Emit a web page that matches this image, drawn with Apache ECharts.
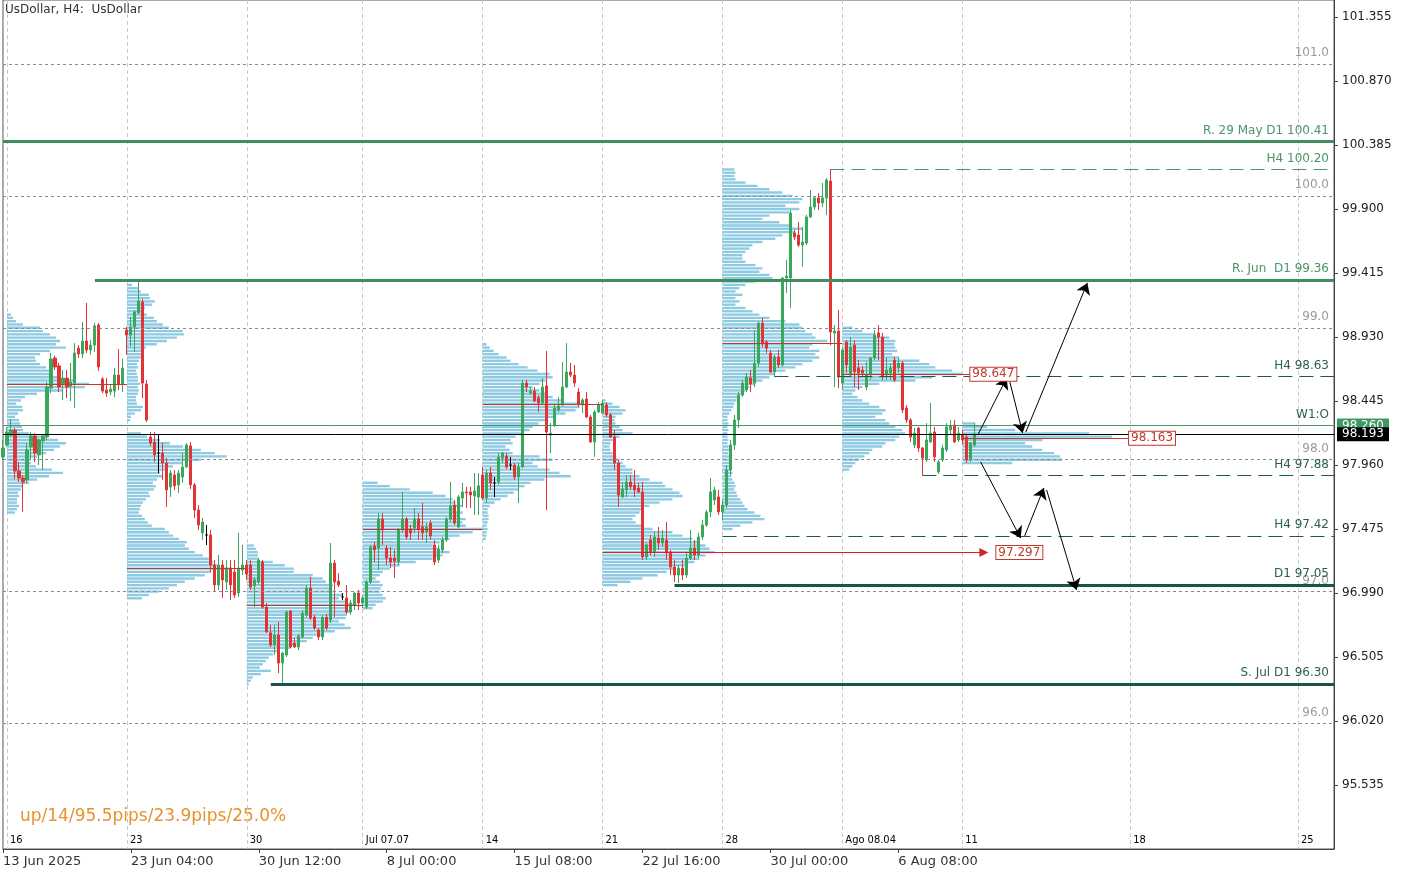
<!DOCTYPE html>
<html><head><meta charset="utf-8">
<script src="https://cdn.jsdelivr.net/npm/echarts@6/dist/echarts.min.js"></script>
<style>html,body{margin:0;padding:0;background:#fff}#c{width:1405px;height:874px}</style>
</head><body><div id="c"></div>
<script>
// ---------- DATA ----------
// H4 candles [open, close, low, high], slot 0 = 13 Jun 20:00
const candles = [
[98.021,98.089,97.998,98.150],[98.112,98.210,98.097,98.248],[98.187,98.225,98.172,98.309],[98.225,97.914,97.854,98.240],
[97.914,97.861,97.832,97.983],[97.861,97.832,97.604,97.884],[97.847,98.074,97.824,98.127],[98.097,98.180,97.998,98.210],
[98.180,98.051,97.983,98.202],[98.036,98.150,97.960,98.164],[98.142,98.180,97.922,98.195],[98.172,98.551,98.150,98.589],
[98.543,98.764,98.505,98.809],[98.771,98.703,98.680,98.787],[98.711,98.551,98.513,98.733],[98.574,98.619,98.453,98.680],
[98.619,98.551,98.467,98.680],[98.559,98.589,98.445,98.733],[98.581,98.809,98.392,98.884],[98.846,98.802,98.771,98.869],
[98.802,98.899,98.771,99.044],[98.899,98.832,98.809,99.188],[98.832,98.869,98.794,98.907],[98.869,99.014,98.817,99.036],
[99.021,98.703,98.672,99.036],[98.612,98.520,98.505,98.627],[98.528,98.505,98.475,98.619],[98.513,98.536,98.490,98.566],
[98.520,98.642,98.475,98.695],[98.642,98.574,98.528,98.839],[98.574,98.695,98.513,98.764],
[98.983,98.945,98.794,99.006],[98.945,99.006,98.854,99.082],[99.006,99.120,98.817,99.135],[99.112,99.203,99.105,99.362],
[99.196,98.581,98.467,99.219],[98.574,98.301,98.286,98.604],[98.172,98.127,98.105,98.210],[98.135,98.036,97.983,98.210],
[98.051,98.051,97.899,98.187],[98.051,97.975,97.847,98.127],[97.975,97.771,97.642,98.013],[97.794,97.899,97.718,97.922],
[97.884,97.802,97.771,97.922],[97.809,97.899,97.748,97.922],[97.869,97.945,97.824,98.051],[97.945,98.112,97.937,98.127],
[98.105,97.809,97.779,98.135],[97.809,97.619,97.558,97.824],[97.619,97.505,97.468,97.657],[97.445,97.528,97.392,97.558],
[97.430,97.430,97.354,97.505],[97.430,97.202,97.149,97.468],[97.202,97.051,96.998,97.240],[97.051,97.202,97.013,97.278],
[97.202,97.089,96.952,97.240],[97.074,97.179,97.013,97.240],[97.179,97.051,96.937,97.240],[97.149,96.975,96.952,97.240],
[96.990,97.179,96.960,97.445],[97.164,97.202,97.126,97.354],
[97.202,97.134,97.089,97.240],[97.202,97.036,97.013,97.240],[97.044,97.089,96.884,97.111],[97.074,97.240,97.051,97.255],
[97.225,96.884,96.869,97.240],[96.884,96.695,96.688,96.914],[96.688,96.596,96.581,96.747],[96.596,96.672,96.520,96.747],
[96.672,96.459,96.383,96.770],[96.459,96.535,96.308,96.543],[96.520,96.846,96.505,96.861],[96.853,96.581,96.573,96.861],
[96.611,96.581,96.573,96.649],[96.581,96.664,96.558,96.679],[96.657,96.838,96.649,96.861],[96.823,97.028,96.808,97.051],
[97.028,96.800,96.785,97.111],[96.808,96.725,96.710,96.823],[96.710,96.657,96.634,96.725],[96.657,96.808,96.634,96.823],
[96.808,96.725,96.710,96.831],[96.785,97.217,96.762,97.369],[97.217,97.074,96.808,97.240],[97.081,97.051,97.036,97.141],
[96.960,96.960,96.937,96.990],[96.952,96.846,96.831,97.051],[96.846,96.914,96.823,96.937],[96.899,96.990,96.861,96.995],
[96.990,96.914,96.861,97.013],
[96.914,96.952,96.876,96.975],[96.884,97.074,96.869,97.089],[97.074,97.339,97.059,97.354],[97.347,97.316,97.225,97.377],
[97.331,97.551,97.164,97.596],[97.551,97.468,97.354,97.596],[97.331,97.255,97.202,97.354],[97.255,97.225,97.179,97.339],
[97.255,97.232,97.104,97.316],[97.225,97.468,97.202,97.483],[97.468,97.551,97.445,97.756],[97.551,97.415,97.392,97.566],
[97.475,97.445,97.392,97.505],[97.483,97.551,97.445,97.634],[97.551,97.475,97.392,97.596],[97.490,97.445,97.392,97.672],
[97.453,97.490,97.369,97.520],[97.520,97.422,97.392,97.543],[97.354,97.225,97.202,97.392],[97.240,97.323,97.217,97.354],
[97.316,97.392,97.293,97.415],[97.392,97.551,97.377,97.566],[97.551,97.650,97.528,97.832],[97.657,97.520,97.505,97.695],
[97.490,97.718,97.483,97.733],[97.710,97.756,97.642,97.824],[97.756,97.748,97.634,97.794],[97.756,97.733,97.634,97.794],
[97.725,97.763,97.581,97.899],[97.718,97.802,97.581,97.899],
[97.884,97.710,97.695,97.945],[97.710,97.899,97.672,97.922],[97.899,97.824,97.771,97.945],[97.824,97.824,97.718,97.869],
[97.832,98.021,97.809,98.051],[98.013,98.051,97.975,98.059],[98.028,97.945,97.930,98.051],[97.960,97.960,97.922,98.021],
[97.960,97.869,97.847,97.975],[97.869,97.945,97.672,97.975],[97.945,98.581,97.937,98.604],[98.581,98.551,98.513,98.604],
[98.505,98.520,98.490,98.551],[98.520,98.445,98.437,98.551],[98.467,98.430,98.362,98.490],[98.430,98.551,98.415,98.619],
[98.559,98.210,97.619,98.824],[98.187,98.202,98.051,98.278],[98.263,98.392,98.248,98.415],[98.377,98.407,98.362,98.475],
[98.415,98.551,98.407,98.741],[98.551,98.665,98.543,98.884],[98.665,98.642,98.627,98.733],[98.642,98.581,98.551,98.718],
[98.513,98.422,98.400,98.543],[98.415,98.453,98.354,98.467],[98.460,98.324,98.316,98.513],[98.324,98.135,98.127,98.339],
[98.135,98.362,98.021,98.377],[98.362,98.415,98.354,98.437],
[98.354,98.430,98.347,98.453],[98.415,98.339,98.324,98.437],[98.339,98.172,98.165,98.354],[98.172,97.975,97.922,98.225],
[97.975,97.733,97.642,97.998],[97.718,97.779,97.710,97.832],[97.771,97.832,97.718,97.884],[97.832,97.794,97.771,97.884],
[97.809,97.771,97.718,97.922],[97.786,97.756,97.748,97.824],[97.756,97.263,97.240,97.832],[97.263,97.354,97.240,97.369],
[97.392,97.301,97.278,97.430],[97.301,97.415,97.263,97.453],[97.407,97.369,97.316,97.490],[97.369,97.407,97.339,97.468],
[97.392,97.293,97.240,97.528],[97.301,97.187,97.126,97.316],[97.187,97.126,97.074,97.240],[97.126,97.179,97.066,97.202],
[97.179,97.126,97.089,97.240],[97.126,97.255,97.104,97.301],[97.255,97.331,97.240,97.468],[97.331,97.278,97.240,97.392],
[97.278,97.415,97.255,97.445],[97.415,97.505,97.392,97.543],[97.505,97.604,97.490,97.619],[97.604,97.756,97.566,97.862],
[97.695,97.771,97.657,97.794],[97.718,97.604,97.581,97.771],
[97.604,97.657,97.543,97.695],[97.657,97.922,97.634,97.960],[97.922,98.112,97.884,98.150],[98.112,98.301,98.074,98.339],
[98.301,98.490,98.240,98.513],[98.490,98.581,98.475,98.604],[98.528,98.627,98.513,98.657],[98.619,98.574,98.513,98.680],
[98.581,98.733,98.551,98.983],[98.733,99.036,98.703,99.044],[99.036,98.884,98.854,99.074],[98.892,98.846,98.809,98.907],
[98.809,98.665,98.657,98.832],[98.665,98.779,98.627,98.794],[98.779,98.718,98.695,98.832],[98.718,99.377,98.703,99.385],
[99.377,99.392,99.264,99.514],[99.377,99.870,99.150,99.893],[99.718,99.688,99.665,99.741],[99.703,99.627,99.612,99.802],
[99.627,99.650,99.461,99.764],[99.642,99.840,99.627,99.855],[99.840,99.915,99.832,100.044],[99.915,99.984,99.893,99.991],
[99.984,99.946,99.893,100.021],[99.946,99.984,99.915,100.097],[99.984,100.120,99.855,100.135],[100.112,98.968,98.869,100.203],
[98.960,98.976,98.551,99.021],[98.976,98.627,98.543,99.135],
[98.581,98.832,98.528,98.847],[98.892,98.718,98.657,98.907],[98.642,98.854,98.627,98.930],[98.869,98.665,98.551,98.907],
[98.695,98.657,98.528,98.756],[98.680,98.657,98.635,98.711],[98.551,98.642,98.528,98.741],[98.642,98.771,98.604,98.779],
[98.771,98.945,98.756,98.983],[98.960,98.930,98.756,99.021],[98.930,98.627,98.604,98.960],[98.642,98.680,98.604,98.771],
[98.657,98.695,98.604,98.733],[98.756,98.604,98.589,98.779],[98.695,98.733,98.657,98.771],[98.733,98.377,98.354,98.748],
[98.392,98.301,98.278,98.415],[98.301,98.172,98.135,98.316],[98.112,98.202,98.089,98.240],[98.240,98.089,98.059,98.248],
[98.089,98.013,97.884,98.097],[97.998,98.150,97.983,98.278],[98.135,98.202,98.127,98.430],[98.210,98.021,97.983,98.248],
[97.907,97.983,97.892,97.998],[97.998,98.089,97.983,98.112],[98.074,98.248,98.059,98.278],[98.225,98.256,98.187,98.301],
[98.263,98.135,98.127,98.301],[98.150,98.202,98.135,98.248],
[98.187,98.150,98.112,98.225],[98.172,97.998,97.975,98.187],[97.998,98.127,97.983,98.135],[98.112,98.193,98.097,98.278]
];
const lastPrice = 98.193;

// x slots (4h bars incl. future)
const slotCount = 334;
const timeTickIdx  = [0, 32, 64, 96, 128, 160, 192, 224];
const timeTickText = ['13 Jun 2025','23 Jun 04:00','30 Jun 12:00','8 Jul 00:00','15 Jul 08:00','22 Jul 16:00','30 Jul 00:00','6 Aug 08:00'];
const weekIdx  = [1, 31, 61, 90, 120, 150, 180, 210, 240, 282, 324];
const weekText = ['16','23','30','Jul 07.07','14','21','28','Ago 08.04','11','18','25'];

// weekly volume profiles (bin 0.025, bottom -> top)
const profW1 = [8,10,12,10,10,12,11,14,15,22,30,42,56,45,29,24,23,30,39,47,53,59,51,39,22,16,15,13,12,8,11,16,15,9,14,18,30,55,78,82,66,51,46,43,39,33,29,28,33,43,59,49,53,49,43,36,33,16,9,6,4];
const profW2 = [15,22,32,42,50,58,68,78,84,105,90,86,82,76,68,62,58,60,52,46,42,38,25,21,18,15,12,13,14,16,19,23,22,27,29,26,30,36,33,40,46,56,74,100,88,74,56,43,33,20,14,0,0,0,3,4,8,14,16,10,9,9,11,12,11,13,11,11,10,9,11,10,12,15,16,17,19,30,40,50,57,56,42,36,30,27,20,16,18,25,28,23,22,14,12,5];
const profW3 = [2,4,6,14,24,13,16,19,22,26,32,44,50,60,66,76,88,104,98,92,99,100,104,99,110,99,92,96,86,83,86,79,76,66,47,47,38,26,12,11,11,9,7];
const profW4 = [10,13,20,23,20,17,18,20,17,13,17,20,27,37,53,70,80,87,77,70,77,87,97,110,120,103,100,103,97,100,93,100,93,90,83,70,47,27,15];
const profW5 = [3,4,4,5,4,5,6,6,5,5,7,12,18,25,31,36,42,48,62,88,77,67,55,50,70,57,30,27,23,30,28,33,40,47,50,56,63,73,83,93,97,100,80,70,63,57,50,57,63,70,67,55,45,36,28,24,16,11,7,4];
const profW6 = [15,28,40,55,64,72,85,92,97,103,112,107,103,97,90,80,70,50,40,33,30,33,37,40,47,57,70,80,77,70,63,60,47,37,30,30,23,20,17,12,10,8,7,8,10,17,30,20,17,13,12,13,20,23,17,10,3];
const profW7 = [10,18,30,42,38,32,25,22,20,18,15,14,12,13,12,10,9,10,8,9,8,7,8,6,7,6,5,6,5,5,6,5,6,5,5,7,9,11,12,14,17,20,23,27,33,40,47,52,63,73,80,90,97,93,97,87,90,105,93,90,83,80,77,63,47,37,30,23,13,17,13,20,13,17,23,33,50,47,37,40,33,23,20,20,23,27,30,40,53,60,73,80,67,57,40,47,67,77,63,77,80,70,60,47,35,23,13,12,13,12];
const profW8 = [7,10,13,17,22,27,30,40,43,53,57,63,60,53,47,43,33,40,43,37,27,20,15,10,13,20,37,73,90,120,110,93,87,77,57,50,55,53,52,53,47,33,20,10];
const profW9 = [50,100,98,92,80,70,63,80,150,127,53,25,13];
const profileVols   = [profW1, profW2, profW3, profW4, profW5, profW6, profW7, profW8, profW9];
const profileStarts = [1, 31, 61, 90, 120, 150, 180, 210, 240];
const profileBases  = [97.6, 96.95, 96.3, 96.875, 97.4, 97.05, 97.475, 97.925, 97.975];
const profileBin = 0.025;
const pocPrices = [98.574, 97.18, 96.899, 97.475, 98.422, 97.297, 98.885, 98.647, 98.163];
const pocEnds   = [31, 61, 90, 120, 150, 245.4, 210, 241.9, 281.6];
const pocArrow  = [false, false, false, false, false, true, false, false, false];

// horizontal levels
const levelNames  = ['R. 29 May D1 100.41','H4 100.20','R. Jun  D1 99.36','H4 98.63','W1:O','H4 97.88','H4 97.42','D1 97.05','S. Jul D1 96.30'];
const levelPrices = [100.41, 100.20, 99.36, 98.63, 98.26, 97.88, 97.42, 97.05, 96.30];
const levelStarts = [0, 207, 23, 193, 0, 230, 180, 168, 67];
const levelKinds  = ['greenThick','greenDash','greenThick','tealDash','greenThin','tealDash','tealDash','tealThick','tealThick'];
const roundPrices = [101, 100, 99, 98, 97, 96];

// price tags
const tagTexts  = ['98.647', '98.163', '97.297'];
const tagSlots  = [241.9, 281.6, 248.4];
const tagPrices = [98.647, 98.163, 97.297];

// projection arrows [slot, price]
const arrowFrom = [[243.9,98.188],[251.9,98.59],[255.9,98.21],[244.6,97.983],[255.6,97.422],[261.1,97.771]];
const arrowTo   = [[251.1,98.62],[255.1,98.203],[271.3,99.34],[254.6,97.407],[260.4,97.786],[268.6,97.013]];

// ---------- STYLE ----------
const FONT = 'DejaVu Sans';
const GREEN = '#3aa85c', RED = '#e23434', PROFILE = '#8ecae2', POC = '#c0392b';
const levelStyle = {
  greenThick: {line:{color:'#3e8e5e', width:3, type:'solid'}, text:'#4a9468'},
  greenDash:  {line:{color:'#4a9468', width:1, type:[14,7]}, text:'#4a9468'},
  greenThin:  {line:{color:'#4a9468', width:1, type:'solid'}, text:'#2b5f53'},
  tealDash:   {line:{color:'#1e5a4c', width:1, type:[14,7]}, text:'#2b5f53'},
  tealThick:  {line:{color:'#1a5648', width:3, type:'solid'}, text:'#2b5f53'}
};
const volToSlot = 0.25;
const lastSlot = slotCount - 1;

const categories = [];
for (let i = 0; i < slotCount; i++) categories.push(String(i));

const candleData = candles.map(c => c[0] === c[1]
  ? {value: c, itemStyle: {color:'#000', color0:'#000', borderColor:'#000', borderColor0:'#000'}}
  : c);

const profileData = [];
profileVols.forEach((vols, w) => {
  vols.forEach((v, k) => {
    if (v > 0) profileData.push([profileStarts[w], +(profileBases[w] + k * profileBin).toFixed(3), v]);
  });
});

const roundLines = roundPrices.map(p => [
  {coord:[0, p], lineStyle:{color:'#8a8a8a', width:1, type:[3,3]},
   label:{show:true, position:'insideEndTop', formatter:p.toFixed(1), color:'#9a9a9a', fontSize:12, fontFamily:FONT, distance:5}},
  {coord:[lastSlot, p]}
]);

const levelLines = levelNames.map((n, i) => {
  const st = levelStyle[levelKinds[i]];
  return [
    {coord:[levelStarts[i], levelPrices[i]], lineStyle:st.line,
     label:{show:true, position:'insideEndTop', formatter:n, color:st.text, fontSize:12, fontFamily:FONT, distance:5}},
    {coord:[lastSlot, levelPrices[i]]}
  ];
});

const pocLines = pocPrices.map((p, i) => [
  {coord:[profileStarts[i], p], lineStyle:{color: pocArrow[i] ? '#d42020' : POC, width:1, type:'solid'},
   symbol:'none', label:{show:false}},
  {coord:[pocEnds[i], p], symbol: pocArrow[i] ? 'triangle' : 'none', symbolSize: pocArrow[i] ? 9 : 0, symbolRotate: -90}
]);

const arrowLines = arrowFrom.map((f, i) => [
  {coord:f, lineStyle:{color:'#000', width:1, type:'solid'}, label:{show:false}},
  {coord:arrowTo[i]}
]);

const chart = echarts.init(document.getElementById('c'), null, {renderer:'canvas'});
chart.setOption({
  animation:false,
  backgroundColor:'#fff',
  textStyle:{fontFamily:FONT},
  grid:{left:0, right:71, top:0, bottom:25, show:true, borderColor:'#555', borderWidth:1, backgroundColor:'#fff'},
  xAxis:[
    {type:'category', data:categories, boundaryGap:false,
     axisLine:{onZero:false, lineStyle:{color:'#444'}},
     axisTick:{show:true, interval:(i)=>timeTickIdx.includes(i), length:4, lineStyle:{color:'#444'}},
     axisLabel:{interval:(i)=>timeTickIdx.includes(i), formatter:(v,i)=>timeTickText[timeTickIdx.indexOf(i)] || '',
       align:'left', color:'#333', fontSize:13, fontFamily:FONT, margin:6},
     splitLine:{show:false}},
    {type:'category', data:categories, boundaryGap:false, position:'bottom',
     axisLine:{show:false, onZero:false}, axisTick:{show:false},
     axisLabel:{inside:true, interval:(i)=>weekIdx.includes(i), formatter:(v,i)=>weekText[weekIdx.indexOf(i)] || '',
       align:'left', color:'#000', fontSize:11, fontFamily:'DejaVu Sans Condensed, Liberation Sans Narrow, DejaVu Sans', margin:3, padding:[0,0,0,3]},
     splitLine:{show:true, interval:(i)=>weekIdx.includes(i), lineStyle:{color:'#c8c8c8', type:[4,3], width:1}}},
    {type:'value', min:0, max:lastSlot, show:false, axisLine:{onZero:false}}
  ],
  yAxis:{type:'value', position:'right', min:95.05, max:101.484, interval:0.485, scale:true,
    axisLine:{show:true, onZero:false, lineStyle:{color:'#444'}},
    axisTick:{show:true, length:4, lineStyle:{color:'#444'}},
    axisLabel:{formatter:(v)=>v.toFixed(3), color:'#222', fontSize:12, fontFamily:FONT, margin:8, showMinLabel:false, showMaxLabel:false},
    splitLine:{show:false}},
  graphic:[
    {type:'text', left:5, top:4, style:{text:'UsDollar, H4:  UsDollar', fill:'#333', font:'12px "DejaVu Sans"'}},
    {type:'text', left:20, top:808, style:{text:'up/14/95.5pips/23.9pips/25.0%', fill:'#e8922e', font:'17px "DejaVu Sans"'}}
  ],
  series:[
    {name:'grid', type:'line', xAxisIndex:2, data:[[0,98]], showSymbol:false, lineStyle:{width:0}, z:1, silent:true,
     markLine:{silent:true, symbol:'none', animation:false, label:{show:false}, data:roundLines}},
    {name:'profile', type:'custom', xAxisIndex:2, yAxisIndex:0, z:2, silent:true,
     dimensions:['slot','price','vol'], encode:{x:0, y:1},
     data:profileData,
     renderItem:(params, api) => {
       const s = api.value(0), p = api.value(1), v = api.value(2);
       const a = api.coord([s, p]);
       const b = api.coord([s + v * volToSlot, p]);
       const h = api.size([0, profileBin])[1];
       return {type:'rect', shape:{x:a[0], y:a[1] - h * 0.36, width:b[0] - a[0], height:h * 0.72}, style:{fill:PROFILE}};
     }},
    {name:'levels', type:'line', xAxisIndex:2, data:[[0,98]], showSymbol:false, lineStyle:{width:0}, z:3, silent:true,
     markLine:{silent:true, symbol:'none', animation:false, label:{show:false}, data:levelLines.concat(pocLines)}},
    {name:'UsDollar', type:'candlestick', xAxisIndex:0, z:4, barWidth:2.6, data:candleData,
     itemStyle:{color:GREEN, color0:RED, borderColor:GREEN, borderColor0:RED, borderWidth:1}},
    {name:'arrows', type:'line', xAxisIndex:2, data:[[0,98]], showSymbol:false, lineStyle:{width:0}, z:5, silent:true,
     markLine:{silent:true, symbol:['none','arrow'], symbolSize:11, animation:false, label:{show:false}, data:arrowLines},
     markPoint:{silent:true, animation:false, symbol:'rect', symbolSize:1, itemStyle:{color:'rgba(0,0,0,0)'},
       label:{show:true, position:'right', distance:0, formatter:(p)=>p.name, color:'#c0392b', fontSize:12, fontFamily:FONT,
         backgroundColor:'#fff', borderColor:'#c0392b', borderWidth:1, padding:[1,2,0,2]},
       data:tagTexts.map((t,i)=>({name:t, coord:[tagSlots[i], tagPrices[i]]}))}},
    {name:'price', type:'line', xAxisIndex:2, data:[[0,98]], showSymbol:false, lineStyle:{width:0}, z:6, silent:true,
     markLine:{silent:true, symbol:'none', animation:false,
       data:[
         [{coord:[lastSlot-1, levelPrices[4]], lineStyle:{color:'#4a9468', width:1},
           label:{show:true, position:'end', distance:3, formatter:levelPrices[4].toFixed(3), color:'#fff', backgroundColor:'#3e9a62', padding:[1,5,1,5], fontSize:12, fontFamily:FONT}},
          {coord:[lastSlot, levelPrices[4]]}],
         [{coord:[0, lastPrice], lineStyle:{color:'#000', width:1, type:'solid'},
           label:{show:true, position:'end', distance:3, formatter:lastPrice.toFixed(3), color:'#fff', backgroundColor:'#000', padding:[1,5,1,5], fontSize:12, fontFamily:FONT}},
          {coord:[lastSlot, lastPrice]}]
       ]}}
  ]
});
</script></body></html>
